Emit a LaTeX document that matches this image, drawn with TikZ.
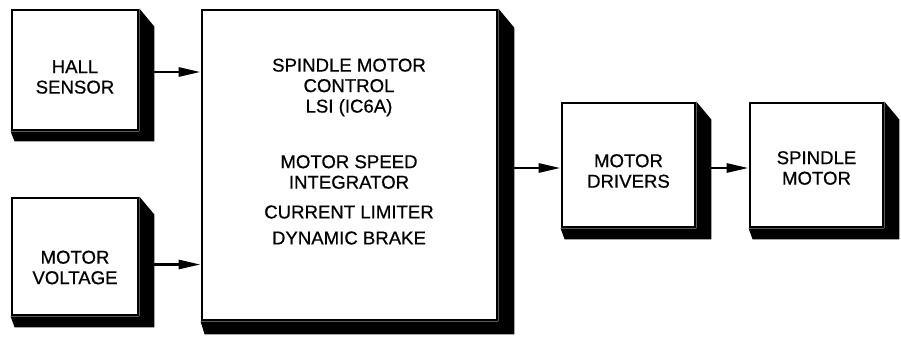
\documentclass[tikz,border=0pt]{standalone}
\usepackage{fontspec}
\setmainfont{Liberation Sans}[FakeBold=0.6]
\usetikzlibrary{arrows.meta}
\newcommand\boxshadow[3]{\fill (#1.north east) -- ++(#2,-1.2*#2) -- ([shift={(#2,-#3)}]#1.south east) -- ([shift={(4pt,-#3)}]#1.south west) -- (#1.south west) -- (#1.south east) -- cycle;}
\begin{document}
\begin{tikzpicture}[x=1pt,y=-1pt,
 box/.style={draw, line width=2.8pt, fill=white, inner sep=0pt},
 lbl/.style={font=\fontsize{18.6}{20.5}\selectfont, align=center, inner sep=0pt},
 conn/.style={line width=2.8pt, -{Triangle[length=22pt,width=9pt]}}]
\useasboundingbox[fill=white] (0,0) rectangle (901,337);
% boxes
\node[box, minimum width=126pt, minimum height=120pt] (hall) at (75,70) {};
\node[box, minimum width=126pt, minimum height=117pt] (volt) at (75,256.5) {};
\node[box, minimum width=295pt, minimum height=310pt] (main) at (349.5,165) {};
\node[box, minimum width=133pt, minimum height=124pt] (drv) at (628.5,165) {};
\node[box, minimum width=133pt, minimum height=124pt] (spm) at (816.5,165) {};
% shadows
\boxshadow{hall}{15pt}{10pt}
\boxshadow{volt}{15pt}{11pt}
\boxshadow{main}{16pt}{13pt}
\boxshadow{drv}{15pt}{11pt}
\boxshadow{spm}{15pt}{11pt}
% labels
\node[lbl] (hallt) at ([yshift=-7pt]hall.center) {HALL\\SENSOR};
\node[lbl] (voltt) at ([yshift=-11pt]volt.center) {MOTOR\\VOLTAGE};
\node[lbl] (m1) at (349,87.5) {SPINDLE MOTOR\\CONTROL\\LSI (IC6A)};
\node[lbl] (m2) at (349,172) {MOTOR SPEED\\INTEGRATOR};
\node[lbl] (m3) at (349,212) {CURRENT LIMITER};
\node[lbl] (m4) at (349,238) {DYNAMIC BRAKE};
\node[lbl] (drvt) at ([yshift=-6pt]drv.center) {MOTOR\\DRIVERS};
\node[lbl] (spmt) at ([yshift=-3pt]spm.center) {SPINDLE\\MOTOR};
% connectors
\coordinate (hin) at ([yshift=-2pt]hall.east);
\coordinate (vin) at ([yshift=-8pt]volt.east);
\coordinate (mo) at ([yshift=-3pt]main.east);
\coordinate (dout) at ([yshift=-3pt]drv.east);
\draw[conn] ([xshift=15pt]hin) -- (hin -| main.west);
\draw[conn] ([xshift=15pt]vin) -- (vin -| main.west);
\draw[conn] ([xshift=16pt]mo) -- (mo -| drv.west);
\draw[conn] ([xshift=15pt]dout) -- (dout -| spm.west);
\end{tikzpicture}
\end{document}
